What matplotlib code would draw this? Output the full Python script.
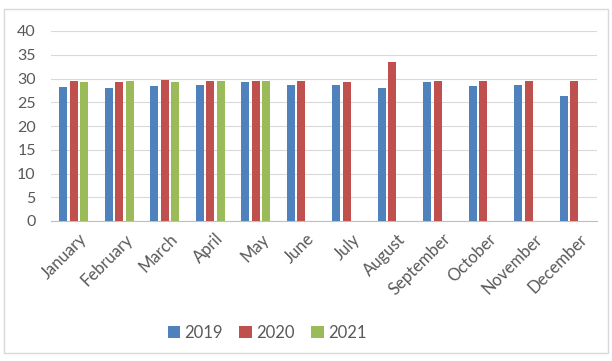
import matplotlib
matplotlib.use("Agg")
import matplotlib.pyplot as plt
import matplotlib.transforms as mtransforms
import numpy as np
from matplotlib.patches import Rectangle

plt.rcParams['font.family'] = ['Lato', 'DejaVu Sans']

months = ["January", "February", "March", "April", "May", "June", "July",
          "August", "September", "October", "November", "December"]
nan = np.nan
y2019 = [28.2, 27.9, 28.4, 28.6, 29.2, 28.6, 28.6, 27.9, 29.2, 28.4, 28.6, 26.4]
y2020 = [29.5, 29.2, 29.7, 29.5, 29.5, 29.5, 29.2, 33.5, 29.5, 29.5, 29.5, 29.5]
y2021 = [29.2, 29.5, 29.2, 29.5, 29.5, nan, nan, nan, nan, nan, nan, nan]
series = ["2019", "2020", "2021"]
colors = ["#4F81BD", "#C0504D", "#9BBB59"]

fig = plt.figure(figsize=(6.12, 3.61), dpi=100)
ax = fig.add_axes([51/612, 1 - 221/361, 546/612, 190/361])

x = np.arange(len(months))
w = 0.18
step = 0.23
for i, (vals, lab, c) in enumerate(zip([y2019, y2020, y2021], series, colors)):
    ax.bar(x + (i - 1) * step, vals, width=w, color=c, label=lab, zorder=3)

ax.set_xlim(-0.5, len(months) - 0.5)
ax.set_ylim(0, 40)
ax.set_yticks(range(0, 41, 5))
ax.grid(axis="y", color="#d9d9d9", linewidth=0.8, zorder=0)
for s in ["top", "right", "left"]:
    ax.spines[s].set_visible(False)
ax.spines["bottom"].set_color("#bfbfbf")
ax.tick_params(length=0, colors="#595959")
ax.tick_params(axis="y", pad=11, labelsize=11.5)
ax.tick_params(axis="x", pad=7, labelsize=12)
ax.set_xticks(x)
ax.set_xticklabels(months, rotation=45, ha="right", rotation_mode="anchor")
shift = mtransforms.ScaledTranslation(5/100, 0, fig.dpi_scale_trans)
for t in ax.get_xticklabels():
    t.set_transform(t.get_transform() + shift)

fig.legend(loc="center", bbox_to_anchor=(267/612, 1 - 333/361), ncol=3,
           frameon=False, fontsize=12, handlelength=0.75, handleheight=0.75,
           handletextpad=0.25, columnspacing=1.0, labelcolor="#595959")

fig.patches.append(Rectangle((4/612, 1 - 353/361), 604/612, 344/361,
                             transform=fig.transFigure, fill=False,
                             edgecolor="#d9d9d9", linewidth=1))

fig.savefig("out.png", dpi=100)
